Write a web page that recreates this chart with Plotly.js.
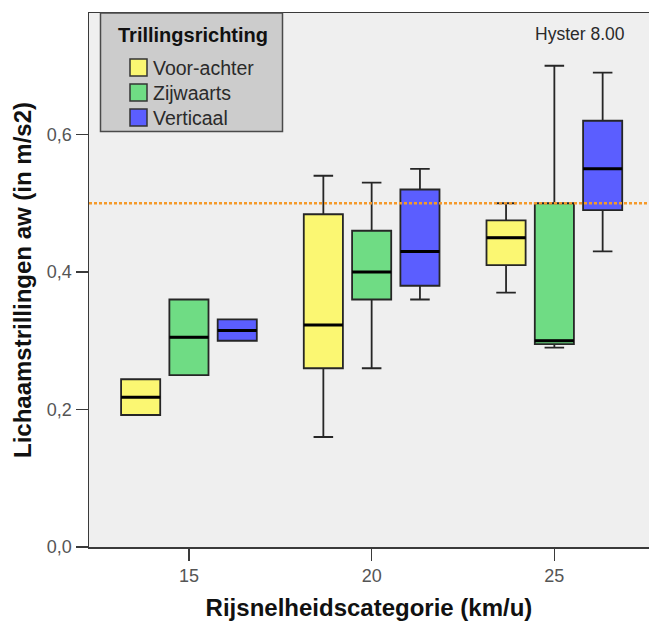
<!DOCTYPE html>
<html>
<head>
<meta charset="utf-8">
<script src="https://cdn.plot.ly/plotly-3.0.1.min.js"></script>
<style>html,body{margin:0;padding:0;background:#fff;overflow:hidden}</style>
</head>
<body>
<div id="chart" style="width:649px;height:621px"></div>
<script>
// ---- data ----
var categories = ['15', '20', '25'];
var seriesNames = ['Voor-achter', 'Zijwaarts', 'Verticaal'];
var seriesColors = ['#fbf772', '#6fdc84', '#5b5eff'];

var lowerFence = [
  [0.192, 0.160, 0.370],
  [0.250, 0.260, 0.290],
  [0.300, 0.360, 0.430]
];
var q1Values = [
  [0.192, 0.260, 0.410],
  [0.250, 0.360, 0.295],
  [0.300, 0.380, 0.490]
];
var medianValues = [
  [0.218, 0.323, 0.450],
  [0.305, 0.400, 0.300],
  [0.315, 0.430, 0.550]
];
var q3Values = [
  [0.244, 0.484, 0.475],
  [0.360, 0.460, 0.500],
  [0.331, 0.520, 0.620]
];
var upperFence = [
  [0.244, 0.540, 0.500],
  [0.360, 0.530, 0.700],
  [0.331, 0.550, 0.690]
];
var referenceValue = [0.5];
var yTickValues = [0, 0.2, 0.4, 0.6];
var panelLabel = 'Hyster 8.00';
var legendTitle = 'Trillingsrichting';

// ---- layout geometry ----
var W = 649, H = 621;
var M = {l: 89, r: 0, t: 13, b: 74};
var PW = W - M.l - M.r, PH = H - M.t - M.b;
function px(x) { return (x - M.l) / PW; }
function py(y) { return (H - M.b - y) / PH; }
var FONT = 'Liberation Sans, Arial, sans-serif';

var traces = [];
seriesNames.forEach(function (name, i) {
  traces.push({
    type: 'box',
    name: name,
    offsetgroup: 'g' + i,
    x: categories,
    lowerfence: lowerFence[i],
    q1: q1Values[i],
    median: medianValues[i],
    q3: q3Values[i],
    upperfence: upperFence[i],
    fillcolor: seriesColors[i],
    line: {color: '#262626', width: 1.8},
    whiskerwidth: 0.5,
    boxpoints: false,
    hoverinfo: 'skip',
    showlegend: false
  });
});
// thick black median bars (same positions as the boxes)
seriesNames.forEach(function (name, i) {
  traces.push({
    type: 'box',
    name: name + ' mediaan',
    offsetgroup: 'g' + i,
    x: categories,
    lowerfence: medianValues[i],
    q1: medianValues[i],
    median: medianValues[i],
    q3: medianValues[i],
    upperfence: medianValues[i],
    fillcolor: 'rgba(0,0,0,0)',
    line: {color: '#000000', width: 3},
    whiskerwidth: 0,
    boxpoints: false,
    hoverinfo: 'skip',
    showlegend: false
  });
});

var shapes = [];
var annotations = [];

// reference line
referenceValue.forEach(function (v) {
  shapes.push({type: 'line', xref: 'paper', x0: 0, x1: 1, yref: 'y', y0: v, y1: v,
    line: {color: '#f59a2a', width: 2.5, dash: '3px,2px'}, layer: 'above'});
});

// custom legend box
shapes.push({type: 'rect', xref: 'paper', yref: 'paper',
  x0: px(100.5), x1: px(282.5), y0: py(131.5), y1: py(13),
  fillcolor: '#cccccc', line: {color: '#4a4a4a', width: 1.5}, layer: 'above'});
annotations.push({xref: 'paper', yref: 'paper', x: px(193), y: py(35),
  xanchor: 'center', yanchor: 'middle', showarrow: false, text: legendTitle,
  font: {family: FONT, size: 20, color: '#111', weight: 'bold'}});
var rowCenters = [67.5, 92.5, 117.5];
seriesNames.forEach(function (name, i) {
  var c = rowCenters[i];
  shapes.push({type: 'rect', xref: 'paper', yref: 'paper',
    x0: px(130), x1: px(147), y0: py(c + 8.5), y1: py(c - 8.5),
    fillcolor: seriesColors[i], line: {color: '#333', width: 1.5}, layer: 'above'});
  annotations.push({xref: 'paper', yref: 'paper', x: px(151), y: py(c + 0.5),
    xanchor: 'left', yanchor: 'middle', showarrow: false, text: name,
    font: {family: FONT, size: 19.5, color: '#2a2a2a'}});
});

annotations.push({xref: 'paper', yref: 'paper', x: px(580), y: py(34),
  xanchor: 'center', yanchor: 'middle', showarrow: false, text: panelLabel,
  font: {family: FONT, size: 17.5, color: '#2a2a2a'}});

var layout = {
  width: W, height: H,
  margin: M,
  paper_bgcolor: '#ffffff',
  plot_bgcolor: '#efefef',
  font: {family: FONT, color: '#333'},
  showlegend: false,
  boxmode: 'group',
  boxgap: 0.207,
  boxgroupgap: 0.19,
  separators: ',.',
  xaxis: {
    type: 'category',
    range: [-0.547, 2.518],
    showline: true, linecolor: '#3a3a3a', linewidth: 1.5, mirror: true,
    ticks: 'outside', ticklen: 12, tickwidth: 1.5, tickcolor: '#3a3a3a',
    showgrid: false, zeroline: false,
    tickfont: {family: FONT, size: 18, color: '#555'},
    title: {text: 'Rijsnelheidscategorie (km/u)', standoff: 16,
      font: {family: FONT, size: 24, color: '#111', weight: 'bold'}},
    automargin: false, fixedrange: true
  },
  yaxis: {
    range: [0, PH / 687.5],
    tickvals: yTickValues, tickformat: '.1f',
    showline: true, linecolor: '#3a3a3a', linewidth: 1.5,
    ticks: 'outside', ticklen: 12, tickwidth: 1.5, tickcolor: '#3a3a3a',
    showgrid: false, zeroline: false,
    tickfont: {family: FONT, size: 18, color: '#555'},
    title: {text: 'Lichaamstrillingen aw (in m/s2)', standoff: 8,
      font: {family: FONT, size: 24, color: '#111', weight: 'bold'}},
    automargin: false, fixedrange: true
  },
  shapes: shapes,
  annotations: annotations
};

Plotly.newPlot('chart', traces, layout, {staticPlot: true, displayModeBar: false});
</script>
</body>
</html>
